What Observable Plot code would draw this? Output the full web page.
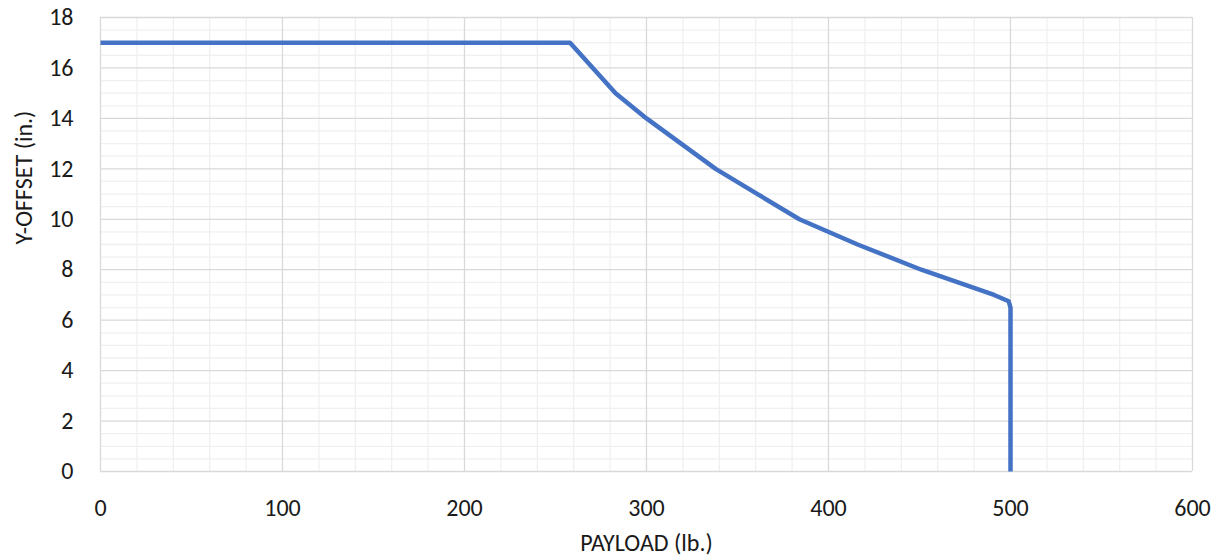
<!DOCTYPE html>
<html>
<head>
<meta charset="utf-8">
<script src="https://cdn.jsdelivr.net/npm/d3@7"></script>
<script src="https://cdn.jsdelivr.net/npm/@observablehq/plot@0.6"></script>
<style>
  html, body { margin: 0; padding: 0; background: #fff; }
  #chart { width: 1218px; height: 560px; }
</style>
</head>
<body>
<div id="chart"></div>
<script>
// Data
const payload = [0, 258, 283, 300, 338, 361, 384, 416, 451, 491, 499, 500, 500];
const yOffset = [17, 17, 15, 14, 12, 11, 10, 9, 8, 7, 6.75, 6.5, 0];

const xTicks = [0, 100, 200, 300, 400, 500, 600];
const yTicks = [0, 2, 4, 6, 8, 10, 12, 14, 16, 18];
const xMinor = d3.range(0, 601, 20).filter(v => v % 100 !== 0);
const yMinor = d3.range(0, 18.01, 0.5).filter(v => v % 2 !== 0);

const xLabel = "PAYLOAD (lb.)";
const yLabel = "Y-OFFSET (in.)";

const data = payload.map((x, i) => ({x, y: yOffset[i]}));

const font = "Carlito, 'Liberation Sans', Arial, sans-serif";

const chart = Plot.plot({
  width: 1218,
  height: 560,
  marginLeft: 100,
  marginRight: 26,
  marginTop: 17,
  marginBottom: 89,
  style: {fontFamily: font, fontSize: "24px", color: "#1a1a1a", background: "#fff"},
  x: {domain: [0, 600]},
  y: {domain: [0, 18]},
  marks: [
    Plot.ruleX(xMinor, {stroke: "#f0f0f0", strokeWidth: 1.3}),
    Plot.ruleY(yMinor, {stroke: "#f0f0f0", strokeWidth: 1.3}),
    Plot.ruleX(xTicks, {stroke: "#d9d9d9", strokeWidth: 1.3}),
    Plot.ruleY(yTicks, {stroke: "#d9d9d9", strokeWidth: 1.3}),
    Plot.line(data, {x: "x", y: "y", stroke: "#4472C4", strokeWidth: 4.5, strokeLinejoin: "round", strokeLinecap: "butt"}),
    Plot.axisX({ticks: xTicks, tickSize: 0, tickPadding: 27, label: null, tickFormat: d => String(d)}),
    Plot.axisY({ticks: yTicks, tickSize: 0, tickPadding: 27, label: null, tickFormat: d => String(d)}),
    Plot.text([xLabel], {frameAnchor: "bottom", dy: 79, text: d => d, fontSize: 24, fill: "#1a1a1a"}),
    Plot.text([yLabel], {frameAnchor: "left", dx: -76, rotate: -90, text: d => d, fontSize: 24, fill: "#1a1a1a"})
  ]
});
document.getElementById("chart").appendChild(chart);
</script>
</body>
</html>
